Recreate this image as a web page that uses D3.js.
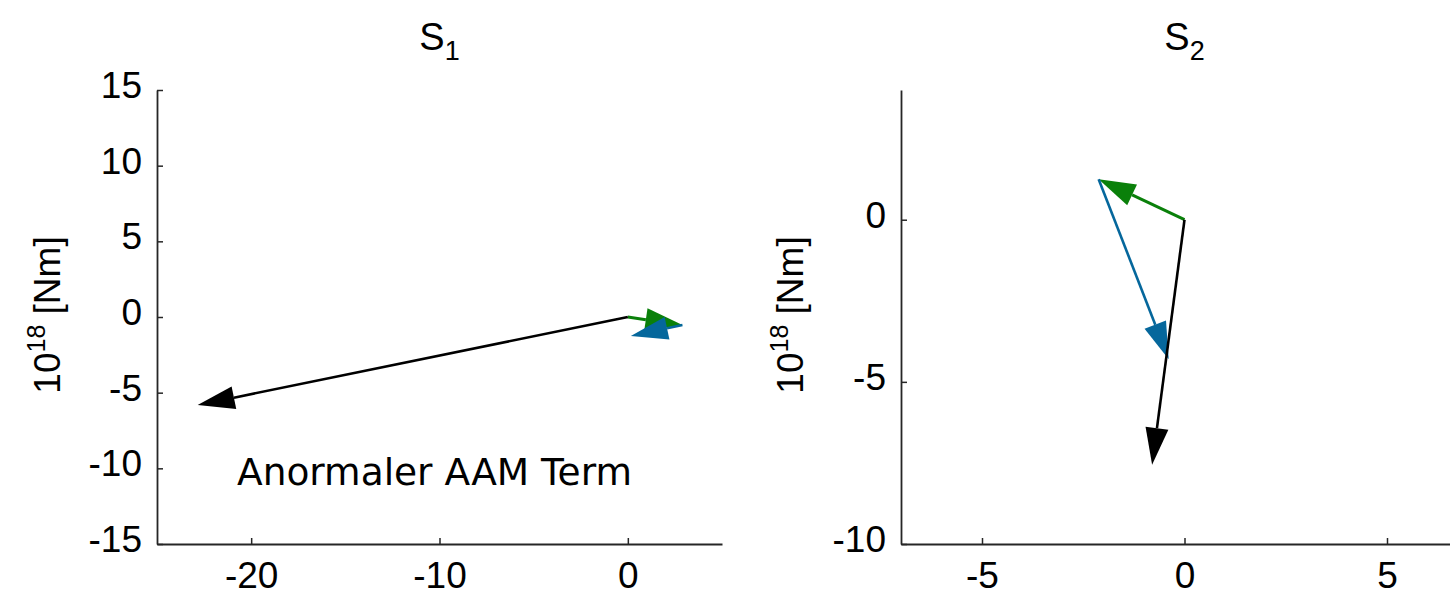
<!DOCTYPE html>
<html>
<head>
<meta charset="utf-8">
<script src="https://cdn.jsdelivr.net/npm/d3@7"></script>
<style>
  body { margin: 0; background: #fff; }
  text { font-family: "Liberation Sans", Arial, sans-serif; fill: #000; }
</style>
</head>
<body>
<div id="chart"></div>
<script>
// set the dimensions of the picture
var width = 1450,
    height = 597;

// vector data, order: green, blue, black
var colors = ["#0a800a", "#05679c", "#000000"];
var lineWidths = [3, 2.6, 2.6];

// S1 panel
var s1X0 = [0, 2.90, 0];
var s1Y0 = [0, -0.53, 0];
var s1X1 = [2.90, 0.16, -22.84];
var s1Y1 = [-0.53, -1.26, -5.82];
var s1XTicks = [-20, -10, 0];
var s1YTicks = [-15, -10, -5, 0, 5, 10, 15];

// S2 panel
var s2X0 = [0, -2.12, 0];
var s2Y0 = [0, 1.25, 0];
var s2X1 = [-2.12, -0.39, -0.80];
var s2Y1 = [1.25, -4.30, -7.56];
var s2XTicks = [-5, 0, 5];
var s2YTicks = [-10, -5, 0];

var svg = d3.select("#chart")
    .append("svg")
    .attr("width", width)
    .attr("height", height);

// arrow head size in pixels
var headLen = 37, headHalf = 11.5;

function drawPanel(opt) {
    var x = d3.scaleLinear().domain(opt.xDomain).range(opt.xRange);
    var y = d3.scaleLinear().domain(opt.yDomain).range([544, 90]);

    var g = svg.append("g");
    var fmt = function(d) { return String(d); };  // plain hyphen minus

    // x axis (ticks pointing inward)
    var xAxis = g.append("g")
        .attr("transform", "translate(0,544)")
        .call(d3.axisBottom(x).tickValues(opt.xTicks).tickFormat(fmt)
            .tickSizeInner(-6).tickSizeOuter(0).tickPadding(18));
    // y axis
    var yAxis = g.append("g")
        .attr("transform", "translate(" + opt.xRange[0] + ",0)")
        .call(d3.axisLeft(y).tickValues(opt.yTicks).tickFormat(fmt)
            .tickSizeInner(-6).tickSizeOuter(0).tickPadding(15));

    [xAxis, yAxis].forEach(function(a) {
        a.select(".domain").attr("stroke", "#262626").attr("stroke-width", 1.8);
        a.selectAll(".tick line").attr("stroke", "#262626").attr("stroke-width", 1.5);
        a.selectAll(".tick text")
            .style("font-size", "37px")
            .style("font-family", "'Liberation Sans', Arial, sans-serif")
            .attr("fill", "#000");
    });
    xAxis.selectAll(".tick text").attr("dy", "0.7em");
    yAxis.selectAll(".tick text").attr("dy", "0.2em");

    // title
    var cx = (opt.xRange[0] + opt.xRange[1]) / 2;
    var title = g.append("text")
        .attr("x", cx)
        .attr("y", 50)
        .attr("text-anchor", "middle")
        .style("font-size", "38px");
    title.append("tspan").text("S");
    title.append("tspan").attr("dy", 10).style("font-size", "27px").text(opt.sub);

    // y label
    var yl = g.append("text")
        .attr("transform", "translate(" + opt.yLabelX + ",315) rotate(-90)")
        .attr("text-anchor", "middle")
        .style("font-size", "37px");
    yl.append("tspan").text("10");
    yl.append("tspan").attr("dy", -15).style("font-size", "25px").text("18");
    yl.append("tspan").attr("dy", 15).text(" [Nm]");

    // arrows
    var idx = d3.range(opt.x0.length);
    var arrows = g.selectAll("g.arrow")
        .data(idx)
        .enter()
        .append("g")
        .attr("class", "arrow");

    arrows.each(function(i) {
        var px0 = x(opt.x0[i]), py0 = y(opt.y0[i]);
        var px1 = x(opt.x1[i]), py1 = y(opt.y1[i]);
        var dx = px1 - px0, dy = py1 - py0;
        var len = Math.sqrt(dx * dx + dy * dy);
        var ux = dx / len, uy = dy / len;
        var hl = Math.min(headLen, len * 0.85);
        var bx = px1 - ux * hl, by = py1 - uy * hl;
        var a = d3.select(this);
        a.append("line")
            .attr("x1", px0).attr("y1", py0)
            .attr("x2", bx).attr("y2", by)
            .attr("stroke", colors[i])
            .attr("stroke-width", lineWidths[i]);
        a.append("path")
            .attr("d", "M" + px1 + "," + py1 +
                "L" + (bx - uy * headHalf) + "," + (by + ux * headHalf) +
                "L" + (bx + uy * headHalf) + "," + (by - ux * headHalf) + "Z")
            .attr("fill", colors[i]);
    });

    return g;
}

var left = drawPanel({
    xDomain: [-25, 5], xRange: [157, 722],
    yDomain: [-15, 15],
    xTicks: s1XTicks, yTicks: s1YTicks,
    x0: s1X0, y0: s1Y0, x1: s1X1, y1: s1Y1,
    sub: "1", yLabelX: 60
});

left.append("text")
    .attr("x", 237)
    .attr("y", 485)
    .style("font-family", "'DejaVu Sans', Verdana, sans-serif")
    .style("font-size", "37.5px")
    .text("Anormaler AAM Term");

drawPanel({
    xDomain: [-7, 7], xRange: [901, 1468],
    yDomain: [-10, 4],
    xTicks: s2XTicks, yTicks: s2YTicks,
    x0: s2X0, y0: s2Y0, x1: s2X1, y1: s2Y1,
    sub: "2", yLabelX: 803
});
</script>
</body>
</html>
